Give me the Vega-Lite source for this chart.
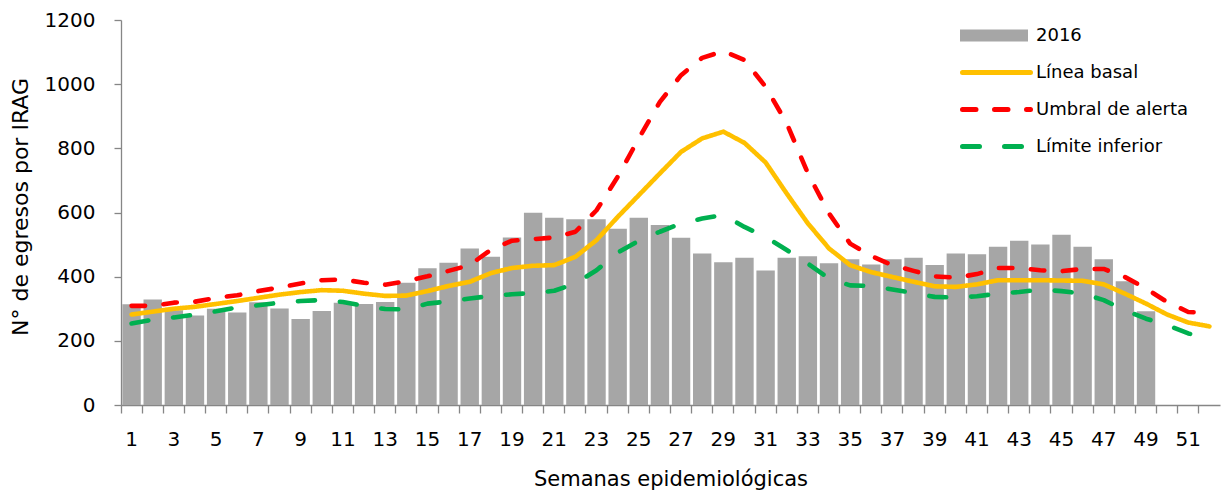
{
  "$schema": "https://vega.github.io/schema/vega-lite/v6.json",
  "width": 1099,
  "height": 385,
  "autosize": "none",
  "padding": {"left": 121, "top": 20, "right": 5, "bottom": 87},
  "background": "white",
  "config": {
    "view": {"stroke": null},
    "font": "DejaVu Sans",
    "axis": {"grid": false, "domainColor": "#868686", "tickColor": "#868686", "domainWidth": 1.3, "tickWidth": 1.3, "labelColor": "#000000", "titleColor": "#000000", "labelFontSize": 20, "titleFontWeight": "normal"},
    "legend": {"labelColor": "#000000", "labelFontSize": 18}
  },
  "data": {"values": [
    {"semana": 1, "egresos": 314, "basal": 282, "alerta": 309, "inferior": 254},
    {"semana": 2, "egresos": 329, "basal": 291, "alerta": 309, "inferior": 266},
    {"semana": 3, "egresos": 295, "basal": 300, "alerta": 319, "inferior": 273},
    {"semana": 4, "egresos": 279, "basal": 306, "alerta": 322, "inferior": 282},
    {"semana": 5, "egresos": 300, "basal": 315, "alerta": 334, "inferior": 292},
    {"semana": 6, "egresos": 288, "basal": 324, "alerta": 342, "inferior": 304},
    {"semana": 7, "egresos": 320, "basal": 334, "alerta": 355, "inferior": 311},
    {"semana": 8, "egresos": 301, "basal": 344, "alerta": 366, "inferior": 319},
    {"semana": 9, "egresos": 268, "basal": 352, "alerta": 379, "inferior": 324},
    {"semana": 10, "egresos": 293, "basal": 358, "alerta": 389, "inferior": 327},
    {"semana": 11, "egresos": 319, "basal": 356, "alerta": 391, "inferior": 321},
    {"semana": 12, "egresos": 315, "basal": 347, "alerta": 381, "inferior": 309},
    {"semana": 13, "egresos": 321, "basal": 340, "alerta": 375, "inferior": 299},
    {"semana": 14, "egresos": 381, "basal": 341, "alerta": 386, "inferior": 298},
    {"semana": 15, "egresos": 426, "basal": 355, "alerta": 401, "inferior": 316},
    {"semana": 16, "egresos": 443, "basal": 371, "alerta": 418, "inferior": 323},
    {"semana": 17, "egresos": 488, "basal": 384, "alerta": 436, "inferior": 332},
    {"semana": 18, "egresos": 462, "basal": 411, "alerta": 484, "inferior": 340},
    {"semana": 19, "egresos": 522, "basal": 427, "alerta": 512, "inferior": 345},
    {"semana": 20, "egresos": 599, "basal": 434, "alerta": 517, "inferior": 349},
    {"semana": 21, "egresos": 584, "basal": 436, "alerta": 522, "inferior": 356},
    {"semana": 22, "egresos": 579, "basal": 462, "alerta": 540, "inferior": 379},
    {"semana": 23, "egresos": 579, "basal": 514, "alerta": 607, "inferior": 420},
    {"semana": 24, "egresos": 549, "basal": 586, "alerta": 711, "inferior": 475},
    {"semana": 25, "egresos": 584, "basal": 654, "alerta": 831, "inferior": 512},
    {"semana": 26, "egresos": 561, "basal": 722, "alerta": 945, "inferior": 540},
    {"semana": 27, "egresos": 521, "basal": 789, "alerta": 1028, "inferior": 566},
    {"semana": 28, "egresos": 472, "basal": 831, "alerta": 1082, "inferior": 581},
    {"semana": 29, "egresos": 445, "basal": 852, "alerta": 1103, "inferior": 592},
    {"semana": 30, "egresos": 459, "basal": 817, "alerta": 1075, "inferior": 555},
    {"semana": 31, "egresos": 419, "basal": 756, "alerta": 992, "inferior": 524},
    {"semana": 32, "egresos": 459, "basal": 659, "alerta": 878, "inferior": 483},
    {"semana": 33, "egresos": 464, "basal": 566, "alerta": 722, "inferior": 441},
    {"semana": 34, "egresos": 442, "basal": 488, "alerta": 597, "inferior": 394},
    {"semana": 35, "egresos": 454, "basal": 436, "alerta": 503, "inferior": 373},
    {"semana": 36, "egresos": 438, "basal": 414, "alerta": 464, "inferior": 371},
    {"semana": 37, "egresos": 454, "basal": 399, "alerta": 436, "inferior": 360},
    {"semana": 38, "egresos": 459, "basal": 384, "alerta": 418, "inferior": 349},
    {"semana": 39, "egresos": 436, "basal": 370, "alerta": 401, "inferior": 337},
    {"semana": 40, "egresos": 472, "basal": 368, "alerta": 397, "inferior": 335},
    {"semana": 41, "egresos": 470, "basal": 376, "alerta": 408, "inferior": 339},
    {"semana": 42, "egresos": 493, "basal": 389, "alerta": 427, "inferior": 347},
    {"semana": 43, "egresos": 512, "basal": 389, "alerta": 427, "inferior": 352},
    {"semana": 44, "egresos": 500, "basal": 389, "alerta": 420, "inferior": 360},
    {"semana": 45, "egresos": 531, "basal": 388, "alerta": 417, "inferior": 355},
    {"semana": 46, "egresos": 493, "basal": 387, "alerta": 424, "inferior": 347},
    {"semana": 47, "egresos": 454, "basal": 376, "alerta": 424, "inferior": 327},
    {"semana": 48, "egresos": 386, "basal": 347, "alerta": 399, "inferior": 295},
    {"semana": 49, "egresos": 292, "basal": 316, "alerta": 363, "inferior": 269},
    {"semana": 50, "egresos": null, "basal": 282, "alerta": 321, "inferior": 249},
    {"semana": 51, "egresos": null, "basal": 257, "alerta": 290, "inferior": 223},
    {"semana": 52, "egresos": null, "basal": 245, "alerta": 287, "inferior": 207}
  ]},
  "layer": [
    {
      "mark": {"type": "bar", "width": {"band": 0.87}},
      "encoding": {
        "x": {"field": "semana", "type": "ordinal", "title": "Semanas epidemiológicas",
              "scale": {"paddingInner": 0, "paddingOuter": 0},
              "axis": {"bandPosition": 0, "labelAngle": 0, "labelExpr": "datum.value % 2 == 1 ? datum.label : ''", "tickSize": 8, "labelPadding": 16, "titleX": 549.5, "titleY": 80.3, "titleBaseline": "alphabetic", "titleFontSize": 21, "titleAlign": "center"}},
        "y": {"field": "egresos", "type": "quantitative", "title": "N° de egresos por IRAG",
              "scale": {"domain": [0, 1200]},
              "axis": {"values": [0, 200, 400, 600, 800, 1000, 1200], "format": "d", "tickSize": 7, "labelPadding": 19, "titleX": -94, "titleY": 186.5, "titleBaseline": "alphabetic", "titleAngle": -90, "titleAlign": "center", "titleFontSize": 22}},
        "fill": {"datum": "2016", "scale": {"range": ["#A6A6A6"]},
                 "legend": {"orient": "none", "legendX": 839, "legendY": 8.5, "title": null, "padding": 0,
                            "symbolType": "M-1,-0.176L1,-0.176L1,0.176L-1,0.176Z", "symbolSize": 4624, "symbolStrokeWidth": 0,
                            "clipHeight": 14, "labelOffset": 8}}
      }
    },
    {
      "transform": [{"fold": ["basal", "alerta", "inferior"], "as": ["serie", "valor"]}],
      "mark": {"type": "line", "strokeWidth": 4.6, "strokeCap": "round", "strokeJoin": "round"},
      "encoding": {
        "x": {"field": "semana", "type": "ordinal", "title": "Semanas epidemiológicas",
              "axis": {"bandPosition": 0, "labelAngle": 0, "labelExpr": "datum.value % 2 == 1 ? datum.label : ''", "tickSize": 8, "labelPadding": 16, "titleX": 549.5, "titleY": 80.3, "titleBaseline": "alphabetic", "titleFontSize": 21, "titleAlign": "center"}},
        "y": {"field": "valor", "type": "quantitative", "title": "N° de egresos por IRAG"},
        "stroke": {"field": "serie", "type": "nominal",
                   "scale": {"domain": ["basal", "alerta", "inferior"], "range": ["#FFC000", "#FF0000", "#00B050"]},
                   "legend": {"orient": "none", "legendX": 839, "legendY": 45.5, "title": null, "padding": 0,
                              "symbolType": "stroke", "symbolSize": 4624, "symbolStrokeWidth": 5,
                              "clipHeight": 14, "rowPadding": 19, "labelOffset": 3,
                              "labelExpr": "datum.value == 'basal' ? 'Línea basal' : datum.value == 'alerta' ? 'Umbral de alerta' : 'Límite inferior'",
                              "encode": {"symbols": {"update": {"strokeCap": {"value": "round"}}}}}},
        "strokeDash": {"field": "serie", "type": "nominal",
                       "scale": {"domain": ["basal", "alerta", "inferior"], "range": [[1, 0], [13.5, 18.5], [17, 25]]}}
      }
    }
  ]
}
